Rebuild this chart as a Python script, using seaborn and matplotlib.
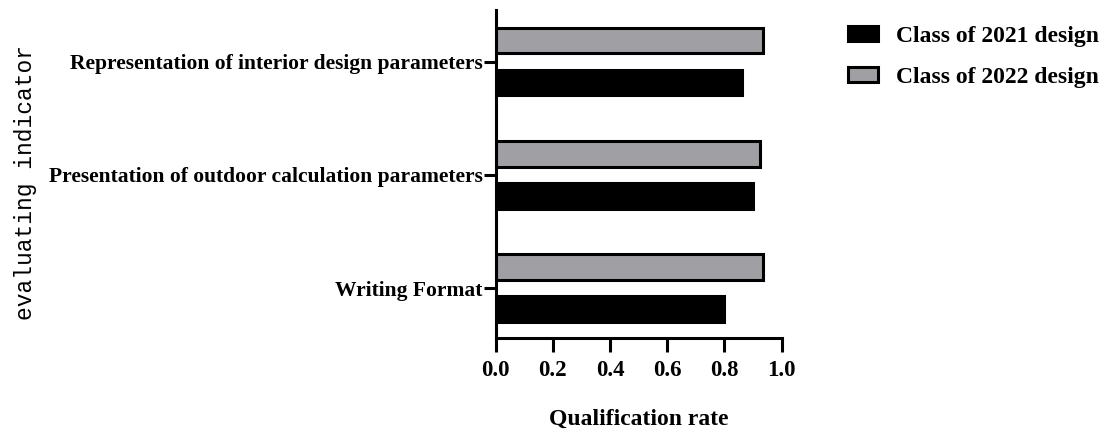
import pandas as pd
import matplotlib.pyplot as plt
import seaborn as sns
from matplotlib.patches import Patch

# Data
indicators = [
    "Representation of interior design parameters",
    "Presentation of outdoor calculation parameters",
    "Writing Format",
]
class_2021 = [0.86, 0.90, 0.80]
class_2022 = [0.935, 0.925, 0.935]
series_names = ["Class of 2021 design", "Class of 2022 design"]

df = pd.DataFrame({
    "indicator": indicators * 2,
    "rate": class_2021 + class_2022,
    "series": [series_names[0]] * 3 + [series_names[1]] * 3,
})

sns.set_theme(style="white")
plt.rcParams["font.family"] = ["Liberation Serif", "DejaVu Serif"]
plt.rcParams["font.weight"] = "bold"
plt.rcParams["text.color"] = "black"
plt.rcParams["axes.labelcolor"] = "black"

lw = 2.2
colors = {series_names[0]: "black", series_names[1]: "#a0a0a4"}

fig = plt.figure(figsize=(11.05, 4.33), dpi=100)
ax = fig.add_axes([0.4486, 0.2194, 0.2588, 0.7575])

sns.barplot(data=df, y="indicator", x="rate", hue="series",
            hue_order=[series_names[1], series_names[0]], order=indicators,
            palette=colors, width=0.74, gap=0.39, edgecolor="black",
            linewidth=lw, saturation=1, legend=False, ax=ax)

ax.set_xlim(0, 1.0)
ax.set_ylim(2.44, -0.456)
ax.set_xticks([0.0, 0.2, 0.4, 0.6, 0.8, 1.0])
ax.set_xticklabels(["0.0", "0.2", "0.4", "0.6", "0.8", "1.0"])

sns.despine(ax=ax)
for side in ["left", "bottom"]:
    ax.spines[side].set_linewidth(lw)
    ax.spines[side].set_color("black")

ax.tick_params(axis="x", direction="out", length=10, width=lw, pad=6,
               labelsize=16.5, colors="black", bottom=True)
ax.tick_params(axis="y", direction="out", length=8.5, width=lw, pad=1,
               labelsize=15.5, colors="black", left=True)
for lab in ax.get_xticklabels() + ax.get_yticklabels():
    lab.set_fontweight("bold")

ax.set_xlabel("Qualification rate", fontsize=17, fontweight="bold", labelpad=20)
ax.set_ylabel("evaluating indicator", fontsize=16.5, fontweight="normal",
              family=["Liberation Mono", "DejaVu Sans Mono"])
ax.yaxis.set_label_coords(-1.605, 0.474)

handles = [Patch(facecolor=colors[s], edgecolor="black", linewidth=lw) for s in series_names]
fig.legend(handles, series_names, loc="upper left", bbox_to_anchor=(0.767, 0.941),
           frameon=False, borderpad=0, borderaxespad=0, handlelength=1.27,
           handleheight=0.6, handletextpad=0.8, labelspacing=0.86,
           prop={"family": "Liberation Serif", "weight": "bold", "size": 17})

fig.savefig("out.png", dpi=100)
